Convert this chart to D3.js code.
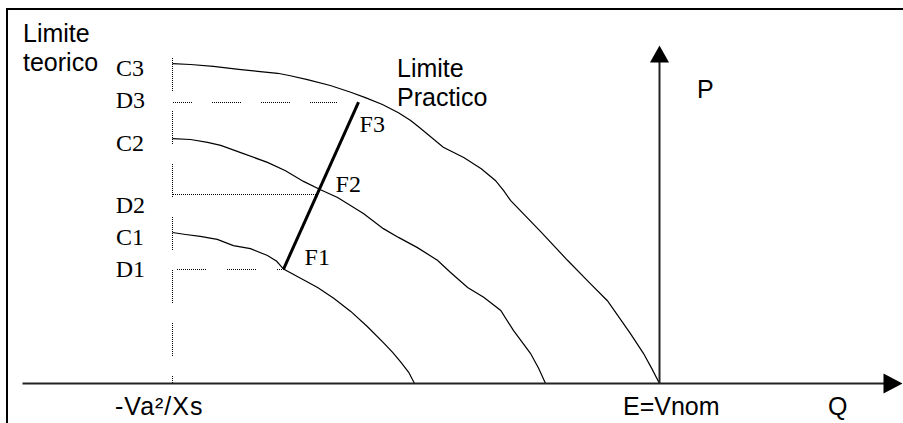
<!DOCTYPE html>
<html>
<head>
<meta charset="utf-8">
<script src="https://cdn.jsdelivr.net/npm/d3@7/dist/d3.min.js"></script>
<style>
  html, body { margin: 0; padding: 0; background: #fff; }
  svg { display: block; }
  .sans { font-family: "Liberation Sans", Arial, sans-serif; font-size: 25px; fill: #000; }
  .serif { font-family: "Liberation Serif", "Times New Roman", serif; font-size: 24px; fill: #000; }
</style>
</head>
<body>
<svg id="chart" width="903" height="423"></svg>
<script>
// Capability curves in the P-Q plane, in % of Va²/Xs (Q) and P.
// Each curve: [Q, P] points from the Q = -Va²/Xs edge down to the Q axis.
const curveC1 = [[-100, 31.0], [-97.3, 30.6], [-94.3, 30.2], [-90.8, 29.6], [-87.5, 28.3], [-84.0, 27.7],
  [-80.5, 26.3], [-78.6, 25.1], [-77.2, 23.5], [-73.7, 21.6], [-70.2, 19.7], [-66.9, 17.5], [-63.4, 14.8],
  [-60.0, 11.7], [-56.7, 8.4], [-54.8, 6.4], [-53.2, 4.5], [-51.5, 2.3], [-50.3, 0]];
const curveC2 = [[-100, 50.3], [-96.3, 50.1], [-92.8, 49.5], [-90.1, 48.9], [-86.0, 47.4], [-80.5, 45.4],
  [-76.8, 43.7], [-73.1, 41.5], [-69.6, 39.8], [-66.1, 38.2], [-60.8, 34.9], [-56.7, 31.8], [-53.6, 30.0],
  [-49.7, 27.9], [-45.6, 25.3], [-42.9, 22.8], [-39.4, 19.7], [-36.1, 17.7], [-32.6, 15.0], [-30.0, 10.9],
  [-26.5, 6.2], [-24.8, 3.1], [-23.4, 0]];
const curveC3 = [[-100, 65.7], [-96.3, 65.5], [-91.6, 65.1], [-86.4, 64.5], [-82.5, 64.1], [-78.4, 63.7],
  [-75.8, 63.2], [-72.3, 62.4], [-67.6, 61.2], [-63.4, 59.8], [-60.4, 58.7], [-56.9, 57.3], [-53.6, 55.6],
  [-51.1, 54.0], [-49.1, 52.4], [-44.4, 48.5], [-40.2, 46.4], [-36.6, 44.1], [-33.7, 41.7], [-32.0, 39.6],
  [-30.6, 37.6], [-24.4, 31.2], [-18.9, 25.3], [-14.2, 20.5], [-10.7, 17.0], [-6.0, 10.3], [-3.3, 6.2],
  [-1.6, 3.1], [0, 0]];
const curveNames = ["C1", "C2", "C3"];

// Operating points F1..F3 on the practical limit line
const fNames = ["F1", "F2", "F3"];
const fPoints = [[-77.2, 23.5], [-70.0, 39.0], [-61.8, 57.8]];

// P levels D1..D3 read at each F point; Q where each guide line stops
const dNames = ["D1", "D2", "D3"];
const dEndQ = [-77.2, -70.0, -66.1];

// Axis labels
const qTickValues = [-100, 0];
const qTickLabels = ["-Va²/Xs", "E=Vnom"];
const axisNames = ["P", "Q"];
const limitTheoretical = ["Limite", "teorico"];
const limitPractical = ["Limite", "Practico"];

// Axis extents
const qAxisMin = -130.8, qAxisMax = 49.9;
const pAxisMax = 69.4;
const guideTopP = 66.9;

const svg = d3.select("#chart");
const x = d3.scaleLinear().domain([-100, 0]).range([172.5, 659.5]);
const y = d3.scaleLinear().domain([0, 100]).range([383.5, -103.5]);

// Frame
svg.append("path").attr("d", "M7,423V9H903")
  .attr("fill", "none").attr("stroke", "#000").attr("stroke-width", 2);

// Dotted dash pattern: 1px dots for `on` pixels, then an empty gap
function dotted(on, gap) {
  const a = [];
  for (let i = 0; i < on / 2; i++) a.push(1, 1);
  a[a.length - 1] += gap;
  return a.join(" ");
}

// Vertical guide at Q = -Va²/Xs
svg.append("line")
  .attr("x1", x(-100)).attr("x2", x(-100))
  .attr("y1", Math.round(y(guideTopP))).attr("y2", y(0))
  .attr("stroke", "#000").attr("stroke-width", 1)
  .attr("stroke-dasharray", dotted(33, 19))
  .attr("shape-rendering", "crispEdges");

// Horizontal guides D1..D3
const dStyles = [
  { dash: dotted(30, 20), offset: 46 },
  { dash: "1 1", offset: 0 },
  { dash: dotted(30, 19), offset: 10 }
];
fPoints.forEach((f, i) => {
  const yy = Math.round(y(f[1])) + 0.5;
  svg.append("line")
    .attr("x1", x(-100)).attr("x2", x(dEndQ[i]))
    .attr("y1", yy).attr("y2", yy)
    .attr("stroke", "#000").attr("stroke-width", 1)
    .attr("stroke-dasharray", dStyles[i].dash)
    .attr("stroke-dashoffset", dStyles[i].offset)
    .attr("shape-rendering", "crispEdges");
});

// Limit curves
const line = d3.line().x(d => x(d[0])).y(d => y(d[1])).curve(d3.curveLinear);
[curveC1, curveC2, curveC3].forEach(c => {
  svg.append("path").attr("d", line(c))
    .attr("fill", "none").attr("stroke", "#000").attr("stroke-width", 1.2);
});

// Line through F1..F3
svg.append("path").attr("d", line([fPoints[0], fPoints[2]]))
  .attr("fill", "none").attr("stroke", "#000").attr("stroke-width", 3);

// Axes with arrowheads
const x0 = x(0), y0 = y(0);
svg.append("line").attr("x1", x(qAxisMin)).attr("x2", x(qAxisMax) - 10)
  .attr("y1", y0).attr("y2", y0).attr("stroke", "#222").attr("stroke-width", 2);
svg.append("path")
  .attr("d", `M${x(qAxisMax)},${y0}L${x(qAxisMax) - 19},${y0 - 10}L${x(qAxisMax) - 19},${y0 + 10}Z`)
  .attr("fill", "#000");
svg.append("line").attr("x1", x0).attr("x2", x0)
  .attr("y1", y0).attr("y2", y(pAxisMax) + 10).attr("stroke", "#222").attr("stroke-width", 2);
svg.append("path")
  .attr("d", `M${x0},${y(pAxisMax)}L${x0 - 9.5},${y(pAxisMax) + 17}L${x0 + 9.5},${y(pAxisMax) + 17}Z`)
  .attr("fill", "#000");

// Q tick labels
const tickDx = [-57.5, -36.5];
qTickLabels.forEach((t, i) => {
  svg.append("text").attr("class", "sans")
    .attr("x", x(qTickValues[i]) + tickDx[i]).attr("y", 415)
    .attr("letter-spacing", i === 0 ? 1 : 0)
    .text(t);
});

// Axis names
svg.append("text").attr("class", "sans").attr("x", x0 + 37.5).attr("y", 98).text(axisNames[0]);
svg.append("text").attr("class", "sans").attr("x", 828).attr("y", 415).text(axisNames[1]);

// Limit labels
limitTheoretical.forEach((t, i) => {
  svg.append("text").attr("class", "sans").attr("x", 23).attr("y", 42 + i * 29).text(t);
});
limitPractical.forEach((t, i) => {
  svg.append("text").attr("class", "sans").attr("x", 397).attr("y", 77 + i * 29).text(t);
});

// C labels at each curve's starting P
const cDy = [12, 12, 12];
[curveC1, curveC2, curveC3].forEach((c, i) => {
  svg.append("text").attr("class", "serif").attr("text-anchor", "end")
    .attr("x", 144).attr("y", y(c[0][1]) + cDy[i]).text(curveNames[i]);
});

// D labels at each F point's P
const dDy = [8, 19, 6];
fPoints.forEach((f, i) => {
  svg.append("text").attr("class", "serif").attr("text-anchor", "end")
    .attr("x", 145).attr("y", y(f[1]) + dDy[i]).text(dNames[i]);
});

// F labels
const fDx = [21, 17, 1], fDy = [-4, -2, 30];
fPoints.forEach((f, i) => {
  svg.append("text").attr("class", "serif")
    .attr("x", x(f[0]) + fDx[i]).attr("y", y(f[1]) + fDy[i]).text(fNames[i]);
});
</script>
</body>
</html>
